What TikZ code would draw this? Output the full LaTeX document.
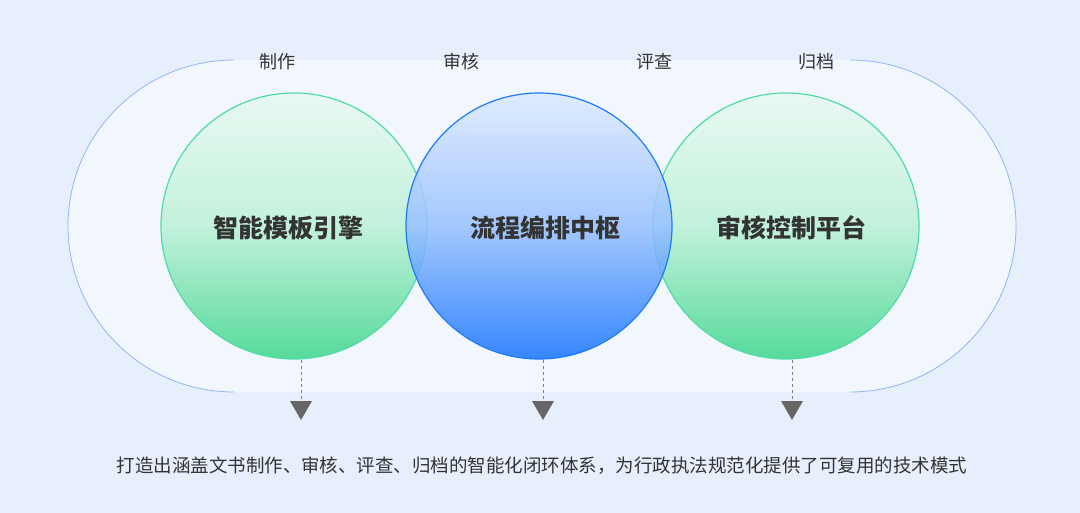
\documentclass[tikz,border=0pt]{standalone}
\usepackage{fontspec}
\setmainfont{Noto Sans CJK SC}
\usetikzlibrary{arrows.meta}
\definecolor{bg}{HTML}{E8EFFC}
\definecolor{gstroke}{HTML}{4FDBA6}
\definecolor{gfill}{HTML}{3BD68A}
\definecolor{bstroke}{HTML}{1A7BFF}
\definecolor{bfill}{HTML}{1673FF}
\definecolor{txt}{HTML}{333333}
\definecolor{arc}{HTML}{8FB6F5}
\tikzset{
 gcirc/.style={draw=gstroke,line width=1.2pt,top color=white!88!gfill,bottom color=gfill,middle color=white!65!gfill,fill opacity=0.85},
 bcirc/.style={draw=bstroke,line width=1.2pt,top color=white!85!bfill,bottom color=bfill,middle color=white!55!bfill,fill opacity=0.85},
 lbl/.style={font=\fontsize{25}{25}\selectfont\bfseries, text=txt},
 toplbl/.style={font=\fontsize{18}{18}\selectfont, text=txt},
 tri/.style={fill=gray!80!black},
 dashline/.style={draw=gray,dashed,line width=0.7pt}
}
\begin{document}
\begin{tikzpicture}[x=1pt,y=-1pt]
\fill[bg] (0,0) rectangle (1080,513);
\useasboundingbox (0,0) rectangle (1080,513);
\fill[white,opacity=0.45] (234,60) arc[start angle=270,end angle=90,radius=166] -- (850,392) arc[start angle=90,end angle=-90,radius=166] -- cycle;
\draw[arc,line width=0.8pt] (234,60) arc[start angle=270,end angle=90,radius=166];
\draw[arc,line width=0.8pt] (850,392) arc[start angle=90,end angle=-90,radius=166];
\draw[gcirc] (294,226) circle[radius=133];
\draw[gcirc] (786,226) circle[radius=133];
\draw[bcirc] (539,226) circle[radius=133];
\node[lbl] (a) at (288,228) {智能模板引擎};
\node[lbl] (b) at (545,228) {流程编排中枢};
\node[lbl] (c) at (791,228) {审核控制平台};
\node[toplbl] (t1) at (277,62) {制作};
\node[toplbl] (t2) at (461,62) {审核};
\node[toplbl] (t3) at (654,62) {评查};
\node[toplbl] (t4) at (816,62) {归档};
\foreach \x/\n in {301/p,543/q,792/r}{
 \coordinate (\n1) at (\x,360);
 \coordinate (\n2) at (\x,400);
 \draw[dashline] (\n1) -- (\n2);
 \fill[tri] (\x-11,401) -- (\x+11,401) -- (\x,420) -- cycle;
}
\node[font=\fontsize{18.5}{18.5}\selectfont,text=txt] (d) at (542,466) {打造出涵盖文书制作、审核、评查、归档的智能化闭环体系，为行政执法规范化提供了可复用的技术模式};
\end{tikzpicture}
\end{document}
